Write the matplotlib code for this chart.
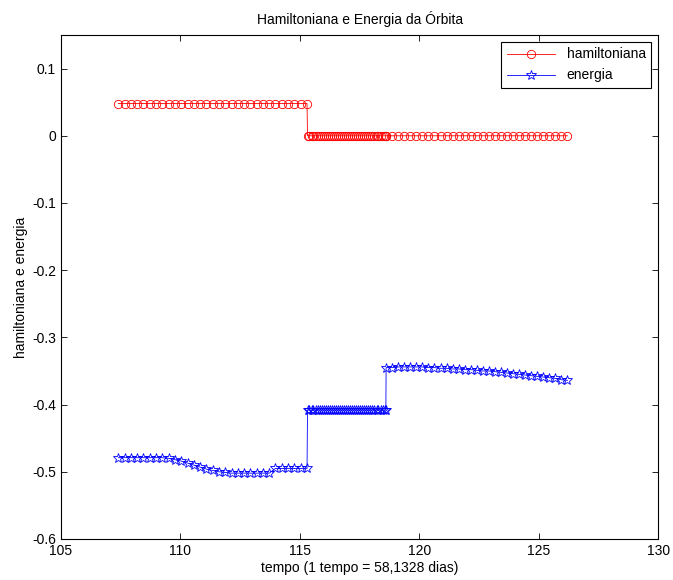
import matplotlib
matplotlib.use('Agg')
import matplotlib.pyplot as plt

plt.rcParams['font.family'] = ['Liberation Sans', 'DejaVu Sans']
plt.rcParams['axes.unicode_minus'] = False

# tempo (three integration segments with different step sizes)
tempo = [
    107.40, 107.66, 107.93, 108.19, 108.45, 108.72, 108.98, 109.24, 109.51, 109.77,
    110.03, 110.30, 110.56, 110.82, 111.09, 111.35, 111.61, 111.88, 112.14, 112.40,
    112.67, 112.93, 113.19, 113.46, 113.72, 113.98, 114.25, 114.51, 114.77, 115.04,
    115.30,
    115.32, 115.40, 115.49, 115.57, 115.66, 115.74, 115.83, 115.91, 116.00, 116.08,
    116.17, 116.25, 116.34, 116.42, 116.51, 116.59, 116.68, 116.76, 116.85, 116.93,
    117.02, 117.10, 117.19, 117.27, 117.36, 117.44, 117.53, 117.61, 117.70, 117.78,
    117.87, 117.95, 118.04, 118.12, 118.21, 118.29, 118.38, 118.46, 118.55, 118.60,
    118.61, 118.86, 119.12, 119.37, 119.62, 119.88, 120.13, 120.38, 120.63, 120.89,
    121.14, 121.39, 121.65, 121.90, 122.15, 122.41, 122.66, 122.91, 123.16, 123.42,
    123.67, 123.92, 124.18, 124.43, 124.68, 124.94, 125.19, 125.44, 125.69, 125.95,
    126.20,
]

hamiltoniana = [0.048] * 31 + [0.0] * 40 + [0.0] * 31

energia = [
    -0.479, -0.479, -0.479, -0.479, -0.479, -0.479, -0.479, -0.479, -0.480, -0.482,
    -0.484, -0.487, -0.490, -0.493, -0.496, -0.498, -0.500, -0.501, -0.502, -0.502,
    -0.502, -0.502, -0.502, -0.502, -0.502, -0.495, -0.495, -0.495, -0.495, -0.495,
    -0.495,
    -0.408, -0.408, -0.408, -0.408, -0.408, -0.408, -0.408, -0.408, -0.408, -0.408,
    -0.408, -0.408, -0.408, -0.408, -0.408, -0.408, -0.408, -0.408, -0.408, -0.408,
    -0.408, -0.408, -0.408, -0.408, -0.408, -0.408, -0.408, -0.408, -0.408, -0.408,
    -0.408, -0.408, -0.408, -0.408, -0.408, -0.408, -0.408, -0.408, -0.408, -0.408,
    -0.345, -0.345, -0.344, -0.344, -0.344, -0.344, -0.344, -0.345, -0.345, -0.346,
    -0.346, -0.347, -0.347, -0.348, -0.348, -0.349, -0.350, -0.350, -0.351, -0.352,
    -0.353, -0.354, -0.355, -0.356, -0.357, -0.358, -0.359, -0.360, -0.361, -0.363,
    -0.364,
]

fig = plt.figure(figsize=(6.73, 5.80), dpi=100)
ax = fig.add_axes([0.0906, 0.0707, 0.8874, 0.869])

ax.plot(tempo, hamiltoniana, color='red', lw=0.6, marker='o', markersize=6,
        markerfacecolor='none', markeredgewidth=0.6, label='hamiltoniana')
ax.plot(tempo, energia, color='blue', lw=0.6, marker='*', markersize=7.5,
        markerfacecolor='none', markeredgewidth=0.6, label='energia')

ax.set_xlim(105, 130)
ax.set_ylim(-0.6, 0.15)
ax.set_xticks([105, 110, 115, 120, 125, 130])
ax.set_yticks([-0.6, -0.5, -0.4, -0.3, -0.2, -0.1, 0, 0.1])
ax.set_yticklabels(['-0.6', '-0.5', '-0.4', '-0.3', '-0.2', '-0.1', '0', '0.1'])
ax.tick_params(direction='in', top=True, right=True, labelsize=10, length=4, width=0.6)
for s in ax.spines.values():
    s.set_linewidth(0.8)

ax.set_title('Hamiltoniana e Energia da Órbita', fontsize=10, pad=8)
ax.set_xlabel('tempo (1 tempo = 58,1328 dias)', fontsize=10, labelpad=2)
ax.set_ylabel('hamiltoniana e energia', fontsize=10, labelpad=3)

leg = ax.legend(loc='upper right', fontsize=10, fancybox=False, edgecolor='black',
                framealpha=1, borderaxespad=0.5, handlelength=3.5)
leg.get_frame().set_linewidth(0.8)

plt.savefig('out.png', dpi=100)
